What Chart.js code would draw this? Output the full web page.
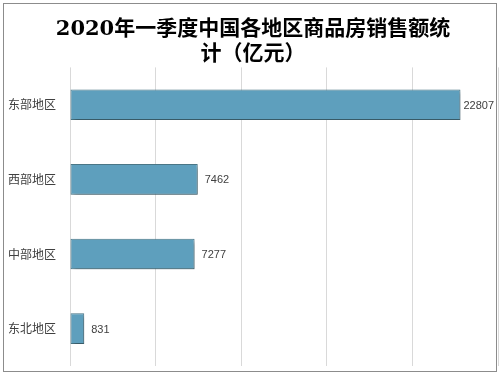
<!DOCTYPE html>
<html>
<head>
<meta charset="utf-8">
<script src="https://cdn.jsdelivr.net/npm/chart.js@4/dist/chart.umd.min.js"></script>
<style>
  html, body { margin: 0; padding: 0; background: #fff; }
  #box { position: relative; width: 501px; height: 376px; }
</style>
</head>
<body>
<div id="box"><canvas id="myChart" width="501" height="376"></canvas></div>
<script>
// data
var regions = ['东部地区', '西部地区', '中部地区', '东北地区'];
var sales = [22807, 7462, 7277, 831];
var titleLines = ['2020年一季度中国各地区商品房销售额统', '计（亿元）'];

// outer frame + shadow on the bars
var framePlugin = {
    id: 'frame',
    beforeDraw: function (chart) {
        var c = chart.ctx;
        c.save();
        c.fillStyle = '#fff';
        c.fillRect(0, 0, chart.width, chart.height);
        c.strokeStyle = '#8c8c8c';
        c.lineWidth = 1;
        c.strokeRect(3.5, 3.5, 493, 368);
        c.restore();
    },
    beforeDatasetDraw: function (chart) {
        var c = chart.ctx;
        c.save();
        c.shadowColor = 'rgba(0,0,0,0.28)';
        c.shadowBlur = 4;
        c.shadowOffsetX = 2;
        c.shadowOffsetY = 3;
    },
    afterDatasetDraw: function (chart) {
        chart.ctx.restore();
    }
};

// category names on the left and value text at the end of each bar
var labelPlugin = {
    id: 'labels',
    afterDatasetsDraw: function (chart) {
        var c = chart.ctx;
        var meta = chart.getDatasetMeta(0);
        c.save();
        c.textBaseline = 'middle';
        c.fillStyle = '#404040';
        c.font = '11px "Liberation Sans", "DejaVu Sans", sans-serif';
        meta.data.forEach(function (bar, i) {
            var txt = String(sales[i]);
            var w = c.measureText(txt).width;
            var x = bar.x + 7;
            if (x + w > chart.chartArea.right - 3) x = bar.x + 3;
            c.fillText(txt, x, bar.y + 1);
        });
        c.font = '12px "Noto Sans CJK SC", sans-serif';
        c.textAlign = 'left';
        meta.data.forEach(function (bar, i) {
            c.fillText(regions[i], 8, bar.y);
        });
        c.restore();
    }
};

var ctx = document.getElementById('myChart').getContext('2d');
var chart = new Chart(ctx, {
    type: 'bar',
    data: {
        labels: regions,
        datasets: [{
            data: sales,
            backgroundColor: function (context) {
                var bar = context.element;
                var area = context.chart.chartArea;
                if (!area || !bar || bar.x === undefined) return '#5e9fbd';
                var g = context.chart.ctx.createLinearGradient(area.left, 0, Math.max(bar.x, area.left + 1), 0);
                g.addColorStop(0, '#66acce');
                g.addColorStop(1, '#528797');
                return g;
            },
            borderColor: '#4b7888',
            borderWidth: 1,
            borderSkipped: false,
            barPercentage: 0.41,
            categoryPercentage: 1
        }]
    },
    options: {
        indexAxis: 'y',
        responsive: false,
        animation: false,
        layout: { padding: { left: 8, right: 3, top: 3, bottom: 10 } },
        plugins: {
            legend: { display: false },
            tooltip: { enabled: false },
            title: {
                display: true,
                text: titleLines,
                color: '#000',
                font: { family: '"DejaVu Serif", "Noto Sans CJK SC", serif', size: 21, weight: 'bold', lineHeight: 1.2 },
                padding: { top: 14, bottom: 0 }
            }
        },
        scales: {
            x: {
                min: 0,
                max: 25000,
                ticks: { display: false, stepSize: 5000 },
                grid: { color: '#d9d9d9', drawTicks: false },
                border: { display: false }
            },
            y: {
                grid: { display: false },
                border: { display: false },
                ticks: { display: false },
                afterFit: function (scale) { scale.width = 62; }
            }
        }
    },
    plugins: [framePlugin, labelPlugin]
});
</script>
</body>
</html>
